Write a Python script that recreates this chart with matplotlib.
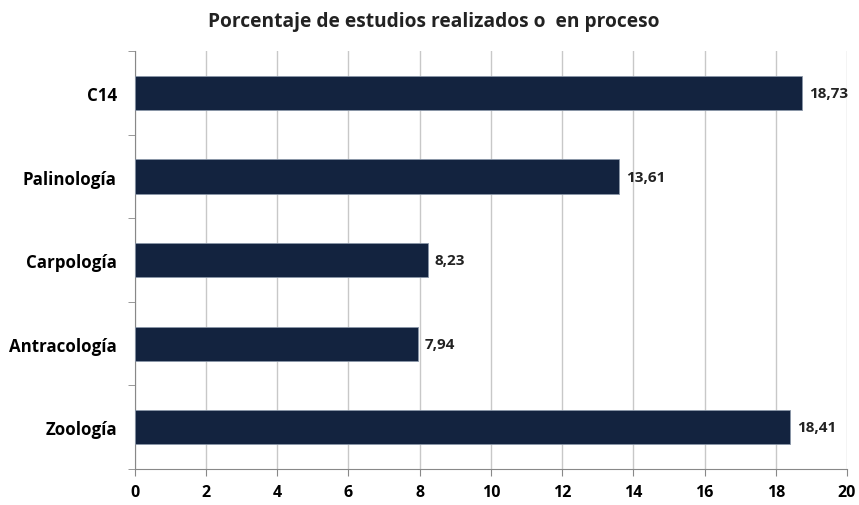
import numpy as np
import matplotlib
matplotlib.use("Agg")
import matplotlib.pyplot as plt

categories = ["C14", "Palinología", "Carpología", "Antracología", "Zoología"]
values = [18.73, 13.61, 8.23, 7.94, 18.41]
value_labels = ["18,73", "13,61", "8,23", "7,94", "18,41"]
xticks = [0, 2, 4, 6, 8, 10, 12, 14, 16, 18, 20]

plt.rcParams["font.family"] = ["Open Sans", "DejaVu Sans"]

fig = plt.figure(figsize=(8.59, 5.06), dpi=100)
ax = fig.add_axes([0.157, 0.071, 0.829, 0.826])

y = np.arange(len(categories))[::-1]
ax.barh(y, values, height=0.41, color="#13233f", edgecolor="#8a96a8",
        linewidth=0.6, zorder=3)
for yi, v, lab in zip(y, values, value_labels):
    ax.annotate(lab, (v, yi), xytext=(5, 0), textcoords="offset points",
                va="center", ha="left", fontsize=11, fontweight="bold",
                color="#222222")

ax.set_xlim(0, 20)
ax.set_ylim(-0.5, len(categories) - 0.5)
ax.set_xticks(xticks)
ax.set_xticklabels([str(t) for t in xticks], fontsize=11.5, fontweight="bold")
ax.set_yticks(y)
ax.set_yticklabels(categories, fontsize=12.2, fontweight="bold")
ax.set_yticks(np.arange(len(categories) + 1) - 0.5, minor=True)
ax.tick_params(axis="y", which="major", length=0, pad=13)
ax.tick_params(axis="y", which="minor", length=5, color="#888888")
ax.tick_params(axis="x", length=5, color="#888888", pad=6)

ax.grid(axis="x", color="#c8c8c8", linewidth=1, zorder=0)
for s in ["top", "right"]:
    ax.spines[s].set_visible(False)
for s in ["left", "bottom"]:
    ax.spines[s].set_color("#888888")

fig.text(0.505, 0.957, "Porcentaje de estudios realizados o  en proceso",
         ha="center", va="center", fontsize=13.8, fontweight="bold",
         color="#222222")

fig.savefig("out.png", dpi=100)
